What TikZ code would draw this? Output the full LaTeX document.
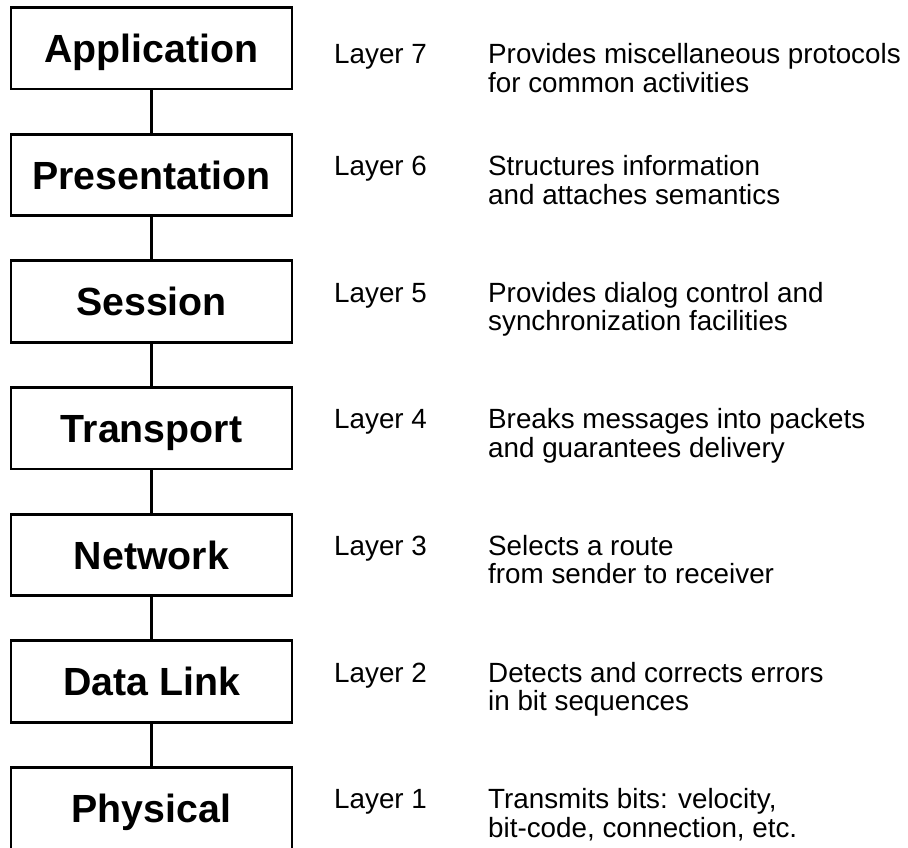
\documentclass[tikz,border=0pt]{standalone}
\usepackage{fontspec}
\setmainfont{Liberation Sans}
\begin{document}
\begin{tikzpicture}[x=1pt,y=-1pt,
  layerbox/.style={draw=black, line width=2.8pt, minimum width=281pt, minimum height=81.5pt,
    inner sep=0pt, text height=28.2pt, text depth=0pt, font=\fontsize{39.3}{40}\selectfont\bfseries},
  link/.style={draw=black, line width=2.8pt},
  lbl/.style={anchor=base west, inner sep=0pt, font=\fontsize{27.8}{28}\selectfont},
  desc/.style={anchor=base west, inner sep=0pt, align=left, font=\fontsize{27.8}{28}\selectfont}]
\useasboundingbox (0,0) rectangle (908,847);
\clip (0,0) rectangle (908,847);
% boxes
\node[layerbox] (app)  at (151.5, 48.25) {Application};
\node[layerbox] (pres) at (151.5, 174.92) {Presentation};
\node[layerbox] (sess) at (151.5, 301.58) {Session};
\node[layerbox] (trans) at (151.5, 428.25) {Transport};
\node[layerbox] (net)  at (151.5, 554.92) {Network};
\node[layerbox] (dl)   at (151.5, 681.58) {Data Link};
\node[layerbox] (phys) at (151.5, 808.25) {Physical};
% connectors
\draw[link] (app.south) -- (pres.north);
\draw[link] (pres.south) -- (sess.north);
\draw[link] (sess.south) -- (trans.north);
\draw[link] (trans.south) -- (net.north);
\draw[link] (net.south) -- (dl.north);
\draw[link] (dl.south) -- (phys.north);
% labels
\node[lbl] (l7) at (334, 63.5) {Layer 7};
\node[lbl] (l6) at (334, 175.5) {Layer 6};
\node[lbl] (l5) at (334, 302) {Layer 5};
\node[lbl] (l4) at (334, 428.7) {Layer 4};
\node[lbl] (l3) at (334, 555.3) {Layer 3};
\node[lbl] (l2) at (334, 682) {Layer 2};
\node[lbl] (l1) at (334, 808.7) {Layer 1};
% descriptions
\node[desc] (d7) at (488, 63.5) {\begin{tabular}[t]{@{}l@{}}Provides miscellaneous protocols\\for common activities\end{tabular}};
\node[desc] (d6) at (488, 175.5) {\begin{tabular}[t]{@{}l@{}}Structures information\\and attaches semantics\end{tabular}};
\node[desc] (d5) at (488, 302) {\begin{tabular}[t]{@{}l@{}}Provides dialog control and\\synchronization facilities\end{tabular}};
\node[desc] (d4) at (488, 428.7) {\begin{tabular}[t]{@{}l@{}}Breaks messages into packets\\and guarantees delivery\end{tabular}};
\node[desc] (d3) at (488, 555.3) {\begin{tabular}[t]{@{}l@{}}Selects a route\\from sender to receiver\end{tabular}};
\node[desc] (d2) at (488, 682) {\begin{tabular}[t]{@{}l@{}}Detects and corrects errors\\in bit sequences\end{tabular}};
\node[desc] (d1) at (488, 808.7) {\begin{tabular}[t]{@{}l@{}}Transmits bits: velocity,\\bit-code, connection, etc.\end{tabular}};
\end{tikzpicture}
\end{document}
